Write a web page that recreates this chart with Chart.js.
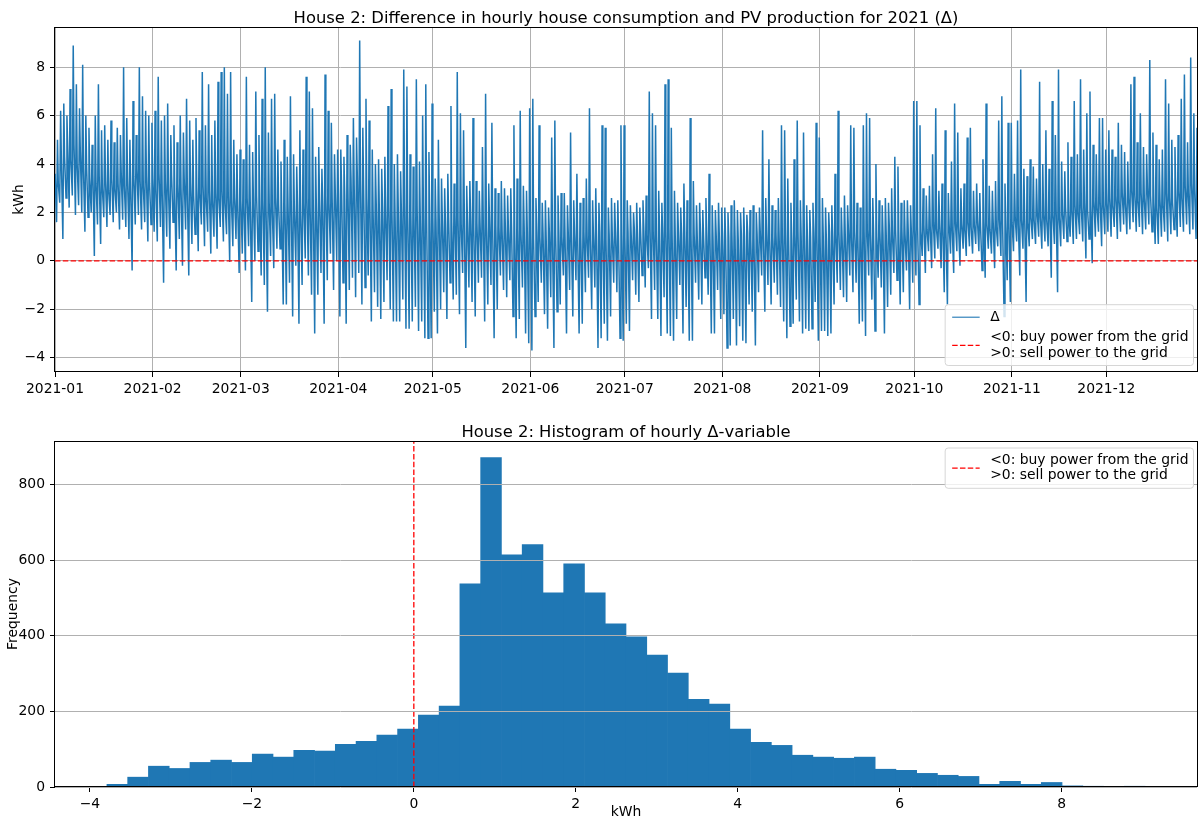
<!DOCTYPE html>
<html>
<head>
<meta charset="utf-8">
<script src="https://cdn.jsdelivr.net/npm/chart.js@4.4.1/dist/chart.umd.min.js"></script>
<style>
  body { margin: 0; background: #fff; }
  #wrap { position: relative; width: 1198px; height: 821px; }
  canvas { position: absolute; left: 0; }
  #deltaChart { top: 0; }
  #histChart { top: 400px; }
</style>
</head>
<body>
<div id="wrap">
  <canvas id="deltaChart" width="1198" height="400"></canvas>
  <canvas id="histChart" width="1198" height="421"></canvas>
</div>
<script>
// x axis of the top plot: day of the year where each month starts
const monthLabels = ["2021-01", "2021-02", "2021-03", "2021-04", "2021-05", "2021-06",
    "2021-07", "2021-08", "2021-09", "2021-10", "2021-11", "2021-12"];
const monthStartDay = [0, 31, 59, 90, 120, 151, 181, 212, 243, 273, 304, 334];

// Δ in kWh (Jan 1 .. Dec 29)
// night level
const dayBase = [
    3.6, 3.2, 4.0, 4.3, 4.6, 4.2, 4.8, 4.0, 4.5, 3.8, 3.9, 3.4, 3.6, 3.2, 3.5, 3.0, 3.3, 2.9, 3.4, 3.0, 3.2, 3.6, 3.1, 3.4, 3.0, 3.5, 3.8, 3.3, 3.1, 3.5, 3.2, // jan
    3.4, 3.0, 3.6, 2.9, 3.3, 3.1, 3.5, 2.8, 3.2, 3.0, 3.4, 2.9, 3.2, 2.7, 3.0, 2.8, 3.1, 2.6, 2.9, 2.5, 2.8, 2.6, 2.9, 2.4, 2.7, 2.5, 2.6, 2.3, // feb
    2.5, 2.3, 2.6, 2.2, 2.4, 2.7, 2.3, 2.5, 2.2, 2.4, 2.1, 2.6, 2.3, 2.0, 2.4, 2.2, 2.5, 2.1, 2.3, 2.0, 2.4, 2.6, 2.2, 2.4, 2.1, 2.5, 2.3, 2.7, 2.4, 2.6, 2.8, // mar
    2.8, 3.0, 2.7, 3.2, 3.4, 3.1, 3.5, 3.3, 3.0, 2.6, 2.3, 2.1, 2.4, 2.0, 2.2, 1.9, 2.3, 2.1, 1.8, 2.2, 2.0, 2.4, 1.9, 2.1, 1.8, 2.2, 1.7, 2.0, 1.9, 1.8, // apr
    1.8, 1.6, 1.9, 1.7, 1.5, 1.8, 1.6, 1.9, 1.7, 1.5, 1.8, 1.6, 1.7, 1.4, 1.6, 1.5, 1.7, 1.4, 1.6, 1.3, 1.5, 1.4, 1.2, 1.5, 1.3, 1.4, 1.2, 1.3, 1.1, 1.4, 1.2, // may
    1.1, 0.9, 1.2, 1.0, 1.1, 0.9, 1.2, 1.0, 1.1, 1.3, 1.0, 0.9, 1.2, 1.0, 1.1, 0.9, 1.0, 1.2, 1.0, 0.9, 1.1, 1.0, 1.2, 1.0, 0.9, 1.1, 1.0, 1.2, 0.9, 1.1, // jun
    1.0, 1.2, 1.1, 1.3, 1.0, 1.2, 1.4, 1.1, 1.3, 1.2, 1.0, 1.3, 1.1, 1.2, 1.4, 1.1, 1.0, 1.2, 1.1, 1.3, 1.0, 1.2, 1.1, 0.9, 1.2, 1.0, 1.1, 1.2, 0.9, 1.1, 1.0, // jul
    1.1, 0.9, 1.0, 1.2, 1.0, 0.9, 1.1, 1.0, 1.2, 0.9, 1.0, 1.1, 1.2, 1.0, 1.1, 0.9, 1.0, 1.2, 1.0, 1.1, 1.3, 1.0, 0.9, 1.1, 1.2, 1.0, 1.1, 0.9, 1.0, 1.2, 1.1, // aug
    1.0, 1.1, 0.9, 1.2, 1.0, 1.1, 1.2, 1.0, 1.1, 1.3, 1.0, 1.2, 1.1, 1.0, 1.2, 1.3, 1.1, 1.2, 1.0, 1.3, 1.1, 1.2, 1.4, 1.1, 1.3, 1.2, 1.4, 1.1, 1.3, 1.2, // sep
    1.3, 1.4, 1.2, 1.5, 1.3, 1.4, 1.6, 1.3, 1.5, 1.4, 1.2, 1.5, 1.3, 1.6, 1.4, 1.5, 1.3, 1.6, 1.4, 1.5, 1.7, 1.4, 1.6, 1.5, 1.3, 1.6, 1.4, 1.7, 1.5, 1.4, 1.6, // oct
    1.6, 1.8, 1.5, 1.7, 1.9, 1.6, 1.8, 1.7, 2.0, 1.8, 1.9, 1.7, 2.0, 1.9, 2.1, 1.8, 2.0, 2.2, 1.9, 2.1, 2.3, 2.0, 2.2, 2.4, 2.1, 2.3, 2.5, 2.2, 2.4, 2.3, // nov
    2.4, 2.6, 2.3, 2.7, 2.5, 2.8, 2.4, 2.6, 2.9, 2.7, 2.5, 2.8, 2.6, 3.0, 2.7, 2.4, 2.2, 2.5, 2.3, 2.8, 2.6, 2.4, 2.7, 2.9, 2.6, 3.1, 2.8, 3.2, 2.9 // dec
];
// midday dip (PV)
const dayLow = [
    1.6, 2.4, 0.9, 2.6, 2.2, 2.7, 1.9, 2.3, 2.0, 1.2, 1.8, 2.0, 0.2, 1.5, 0.7, 1.8, 1.4, 1.9, 1.6, 2.0, 1.3, 1.7, 1.4, 0.9, -0.4, 1.5, 1.9, 1.3, 1.6, 0.8, 1.5,
    1.2, 0.8, 1.4, -0.9, 1.0, 0.5, 1.6, -0.4, 0.9, -0.2, 1.3, -0.6, 0.7, 1.1, 0.4, 1.5, 0.6, 1.2, 0.3, 1.0, 0.5, 1.4, 0.8, 1.1, -0.05, 0.6, 0.9, -0.5,
    0.3, -0.4, 0.6, -1.7, 0.0, 0.4, -0.6, -1.0, -2.1, 0.2, -0.3, 0.5, 0.5, -1.8, -1.8, -0.9, -2.3, -0.2, -2.6, -1.0, 0.1, -0.6, -1.4, -3.0, -1.4, -0.5, -2.6, -0.8, 0.3, -1.2, 0.0,
    -2.3, -0.9, -2.6, -1.2, -0.7, -1.5, -0.5, -1.8, -1.1, -0.6, -2.5, -1.3, -1.9, -2.4, -1.7, -0.8, -2.0, -2.5, -2.5, -2.5, -1.6, -2.8, -2.8, -2.5, -1.9, -2.9, -2.5, -3.2, -3.2, -3.2,
    -2.1, -3.0, -2.0, -1.3, -2.4, -0.9, -1.6, -1.4, -2.2, -0.5, -3.6, -1.1, -1.7, -2.3, -0.9, -0.7, -2.5, -1.8, -1.0, -3.2, -2.0, -0.6, -1.2, -1.5, -0.8, -2.3, -3.2, -2.4, -1.1, -3.0, -3.4,
    -3.7, -2.3, -1.7, -0.9, -2.2, -2.8, -1.5, -3.6, -2.1, -1.8, -0.6, -3.0, -1.2, -2.3, -0.8, -3.0, -2.6, -1.3, -0.7, -2.0, -1.1, -3.6, -3.2, -2.6, -3.3, -2.3, -0.9, -1.3, -3.2, -3.3,
    -2.6, -2.9, -0.8, -1.4, -1.7, -0.6, -1.1, -0.3, -2.4, -1.2, -2.4, -3.1, -1.5, -3.0, -3.1, -3.3, -2.4, -1.0, -3.0, -1.9, -3.3, -3.3, -0.9, -1.6, -1.8, -0.7, -1.4, -3.0, -3.0, -1.2, -2.4,
    -2.2, -3.6, -3.5, -2.4, -3.5, -2.7, -3.3, -3.4, -1.8, -2.1, -3.5, -1.3, -0.6, -2.1, -1.0, -1.8, -0.9, -1.4, -1.9, -2.5, -3.2, -2.7, -2.6, -1.6, -2.5, -3.0, -2.8, -2.9, -2.8, -1.7, -3.3,
    -2.9, -2.9, -3.1, -3.0, -1.8, -0.9, -1.2, -1.5, -1.7, -0.6, -1.3, -0.9, -2.6, -2.5, -3.1, -0.6, -1.6, -2.9, -0.7, -1.1, -3.0, -1.9, -1.4, -0.5, -0.8, -1.8, -1.3, -0.4, -2.0, -0.9,
    -0.6, -1.8, 0.2, -0.5, 0.4, -0.3, 0.1, 0.5, -0.3, -1.3, -1.8, 0.3, -0.5, 0.4, -0.2, 0.5, 0.2, 0.6, 0.3, 0.7, 0.4, -0.4, -0.7, 0.5, 0.3, -0.3, 0.6, 0.2, -2.3, -0.8, -1.7,
    0.4, 0.8, -0.6, 0.5, -1.7, 0.6, 0.9, 0.7, 1.0, 0.5, 0.8, 0.6, -0.7, 0.7, -1.3, 0.6, 0.9, 0.8, 1.0, 0.7, 0.9, 1.1, 0.8, 0.1, 0.9, -0.1, 1.0, 1.2, 0.6, 1.1,
    1.2, 1.0, 1.4, 0.9, 1.2, 1.5, 1.1, 1.3, 1.6, 1.2, 1.4, 1.1, 1.3, 1.5, 1.2, 0.7, 0.7, 1.0, 1.2, 0.8, 1.1, 1.3, 1.0, 1.4, 1.2, 1.5, 1.1, 1.3, 0.9
];
// evening peak
const dayHigh = [
    5.0, 6.2, 6.5, 6.0, 7.1, 8.9, 7.3, 6.3, 8.1, 6.0, 5.5, 4.8, 6.0, 7.3, 5.4, 5.6, 5.0, 5.8, 4.9, 5.5, 5.2, 8.0, 5.9, 5.0, 6.6, 5.2, 8.0, 6.8, 6.2, 6.0, 5.7,
    6.2, 7.6, 5.8, 6.0, 6.5, 5.2, 5.6, 4.9, 6.0, 5.3, 6.7, 5.8, 5.0, 5.9, 5.4, 7.8, 5.6, 7.3, 5.2, 5.8, 7.4, 7.8, 8.0, 6.9, 7.8, 5.0, 4.4, 4.6,
    4.2, 7.6, 4.8, 4.5, 7.0, 5.2, 6.7, 8.0, 5.3, 6.7, 6.9, 4.6, 4.1, 5.0, 4.3, 6.8, 4.4, 3.9, 5.4, 4.6, 7.6, 7.0, 6.3, 4.3, 4.7, 3.8, 7.7, 6.2, 5.7, 4.4, 4.6,
    4.6, 4.3, 5.2, 4.8, 5.9, 5.1, 9.1, 5.5, 6.7, 5.8, 4.6, 4.0, 4.2, 3.8, 4.3, 6.4, 7.1, 4.0, 4.4, 3.7, 7.9, 7.2, 4.4, 3.9, 7.5, 4.1, 6.0, 7.3, 4.5, 6.5,
    3.4, 5.0, 3.4, 3.0, 3.6, 6.4, 3.2, 7.8, 6.1, 5.4, 3.1, 3.3, 5.9, 3.3, 2.9, 4.7, 6.9, 3.2, 5.7, 3.0, 2.8, 3.3, 3.0, 2.7, 3.0, 5.6, 3.4, 6.2, 3.1, 2.9, 6.3,
    6.7, 2.6, 5.6, 2.4, 2.5, 2.2, 5.1, 5.8, 2.7, 2.8, 2.8, 2.3, 5.3, 2.5, 3.6, 2.4, 2.6, 3.4, 6.3, 2.5, 3.0, 2.4, 5.6, 5.5, 2.2, 2.6, 2.4, 2.5, 5.6, 5.6,
    2.5, 2.3, 2.0, 2.4, 2.2, 2.5, 2.7, 7.0, 6.1, 5.6, 2.9, 2.4, 7.3, 7.5, 5.5, 2.9, 2.4, 2.2, 3.2, 2.5, 5.9, 3.3, 2.3, 2.4, 2.1, 2.6, 3.6, 2.3, 2.1, 2.4, 2.2,
    2.2, 2.0, 2.3, 2.5, 2.1, 2.0, 2.2, 1.9, 2.1, 2.3, 2.0, 2.2, 5.4, 2.6, 4.2, 2.3, 2.1, 2.6, 5.6, 5.4, 3.4, 2.4, 4.2, 5.8, 2.5, 5.3, 2.3, 2.1, 2.4, 5.7, 5.1,
    2.6, 2.2, 2.0, 2.3, 3.6, 6.2, 2.2, 2.7, 2.3, 5.6, 5.5, 2.4, 2.2, 5.6, 6.1, 5.9, 2.6, 4.0, 2.5, 2.3, 2.6, 2.4, 3.0, 4.3, 3.9, 2.4, 2.5, 2.5, 2.3, 6.6,
    6.6, 5.6, 3.0, 2.7, 3.1, 4.4, 6.3, 2.9, 3.2, 5.4, 2.8, 4.1, 6.5, 5.3, 3.0, 3.2, 5.1, 5.5, 2.9, 3.2, 2.8, 4.2, 6.5, 3.1, 2.9, 3.3, 5.8, 6.8, 3.2, 5.7, 5.7,
    3.6, 5.8, 7.9, 3.8, 3.5, 4.2, 3.9, 3.4, 7.4, 4.0, 5.4, 3.8, 6.6, 5.2, 7.9, 4.1, 3.7, 4.9, 4.3, 6.6, 4.4, 7.5, 4.6, 6.1, 7.0, 4.8, 4.4, 5.9, 5.9, 4.6,
    5.4, 4.6, 4.3, 5.7, 4.8, 4.5, 4.1, 7.3, 7.6, 4.9, 6.1, 4.7, 4.4, 8.3, 5.3, 4.8, 4.2, 4.6, 7.5, 6.5, 5.0, 4.7, 5.2, 6.7, 7.7, 4.9, 8.4, 6.1, 5.5
];
// hour of the day each of the three readings sits at
const readingHours = [1, 12, 19];

// histogram of hourly Δ: 50 bins between min and max of the series
const histRange = [-3.79, 9.03];
const histCounts = [7, 26, 55, 49, 65, 71, 65, 87, 79, 97, 95, 113, 121, 137, 153, 190, 214, 537, 871, 614,
    641, 513, 590, 513, 431, 397, 349, 301, 232, 219, 153, 118, 110, 84, 79, 76, 79, 47, 44, 36,
    31, 28, 7, 15, 7, 12, 3, 2, 1, 2];
const histTicks = [-4, -2, 0, 2, 4, 6, 8];

const gridCol = "#b0b0b0";
const blue = "#1f77b4";
const fontFam = "'DejaVu Sans', sans-serif";
const gridLabel = "<0: buy power from the grid\n>0: sell power to the grid";

Chart.defaults.font.family = fontFam;
Chart.defaults.color = "#000";

const deltaPoints = [];
for (let d = 0; d < dayHigh.length; d++) {
    deltaPoints.push({ x: d + readingHours[0] / 24, y: dayBase[d] });
    deltaPoints.push({ x: d + readingHours[1] / 24, y: dayLow[d] });
    deltaPoints.push({ x: d + readingHours[2] / 24, y: dayHigh[d] });
}
const lastX = deltaPoints[deltaPoints.length - 1].x;

const binW = (histRange[1] - histRange[0]) / histCounts.length;
const histPoints = histCounts.map((c, i) => ({ x: histRange[0] + (i + 0.5) * binW, y: c }));
const histMax = Math.max(...histCounts) * 1.05;
const histPad = (histRange[1] - histRange[0]) * 0.05;

function minusSign(v) {
    return String(v).replace("-", "\u2212");
}

// title centred over the plot area (chart.js centres on the canvas)
const areaTitle = {
    id: "areaTitle",
    afterDraw(chart, args, opts) {
        const { ctx, chartArea: a } = chart;
        ctx.save();
        ctx.font = "16.4px " + fontFam;
        ctx.fillStyle = "#000";
        ctx.textAlign = "center";
        ctx.textBaseline = "alphabetic";
        ctx.fillText(opts.text, (a.left + a.right) / 2, a.top - 4);
        ctx.restore();
    }
};

// black frame round the plot area, like matplotlib spines
const frame = {
    id: "frame",
    afterDatasetsDraw(chart) {
        const { ctx, chartArea: a } = chart;
        ctx.save();
        ctx.strokeStyle = "#000";
        ctx.lineWidth = 1;
        ctx.strokeRect(Math.round(a.left) - 0.5, Math.round(a.top) + 0.5, Math.round(a.right - a.left) + 1, Math.round(a.bottom - a.top) - 1);
        ctx.restore();
    }
};

// matplotlib draws the grid above the bars
const gridOnTop = {
    id: "gridOnTop",
    afterDatasetsDraw(chart) {
        const { ctx, chartArea: a, scales } = chart;
        ctx.save();
        ctx.strokeStyle = gridCol;
        ctx.lineWidth = 1;
        scales.y.ticks.forEach(t => {
            const y = Math.round(scales.y.getPixelForValue(t.value) - 0.5) + 0.5;
            ctx.beginPath();
            ctx.moveTo(a.left, y);
            ctx.lineTo(a.right, y);
            ctx.stroke();
        });
        ctx.restore();
    }
};

// legend box inside the plot, built from the line datasets
const legendBox = {
    id: "legendBox",
    afterDraw(chart, args, opts) {
        const { ctx, chartArea: a } = chart;
        const items = chart.data.datasets.filter(ds => ds.type !== "bar").map(ds => ({
            lines: ds.label.split("\n"), color: ds.borderColor, dash: ds.borderDash || [], width: ds.legendWidth || ds.borderWidth
        }));
        ctx.save();
        ctx.font = "13.9px " + fontFam;
        let textW = 0;
        items.forEach(it => it.lines.forEach(l => { textW = Math.max(textW, ctx.measureText(l).width); }));
        const w = 45 + textW + 5;
        let y = 12.5;
        const rows = [];
        items.forEach((it, k) => {
            if (k > 0) y += 20.5;
            const first = y;
            y += (it.lines.length - 1) * 15.3;
            rows.push({ it, first, mid: (first + y) / 2 });
        });
        const h = y + 12.5;
        const left = a.right - 3.5 - w;
        const top = opts.corner === "top" ? a.top + 7 : a.bottom - 6.5 - h;

        ctx.beginPath();
        ctx.roundRect(left, top, w, h, 3);
        ctx.fillStyle = "rgba(255,255,255,0.8)";
        ctx.fill();
        ctx.strokeStyle = "#d6d6d6";
        ctx.lineWidth = 1;
        ctx.stroke();

        ctx.textBaseline = "middle";
        ctx.fillStyle = "#000";
        rows.forEach(r => {
            ctx.beginPath();
            ctx.setLineDash(r.it.dash);
            ctx.strokeStyle = r.it.color;
            ctx.lineWidth = r.it.width;
            ctx.moveTo(left + 7, top + r.mid);
            ctx.lineTo(left + 34.5, top + r.mid);
            ctx.stroke();
            ctx.setLineDash([]);
            r.it.lines.forEach((l, j) => ctx.fillText(l, left + 45, top + r.first + j * 15.3));
        });
        ctx.restore();
    }
};

const tickFont = { family: fontFam, size: 13.9 };
const labelFont = { family: fontFam, size: 13.9, lineHeight: 1.2 };

new Chart(document.getElementById("deltaChart"), {
    type: "line",
    data: {
        datasets: [
            {
                type: "line",
                label: "Δ",
                data: deltaPoints,
                borderColor: blue,
                borderWidth: 1.5,
                legendWidth: 1.1,
                pointRadius: 0,
                tension: 0,
                order: 1
            },
            {
                type: "line",
                label: gridLabel,
                data: [{ x: 0, y: 0 }, { x: lastX, y: 0 }],
                borderColor: "red",
                borderWidth: 1.3,
                borderDash: [5.5, 2.3],
                pointRadius: 0,
                order: 0
            }
        ]
    },
    options: {
        responsive: false,
        animation: false,
        events: [],
        layout: { padding: { left: 0, right: 1, top: 27, bottom: 0 } },
        plugins: {
            legend: { display: false },
            tooltip: { enabled: false },
            title: { display: false },
            areaTitle: { text: "House 2: Difference in hourly house consumption and PV production for 2021 (Δ)" },
            legendBox: { corner: "bottom" }
        },
        scales: {
            x: {
                type: "linear",
                min: 0,
                max: lastX,
                border: { display: false },
                grid: { color: gridCol, lineWidth: 1, tickColor: "#000", tickLength: 5 },
                afterBuildTicks: axis => { axis.ticks = monthStartDay.map(v => ({ value: v })); },
                afterFit: axis => { axis.height = 28; },
                ticks: {
                    autoSkip: false,
                    maxRotation: 0,
                    padding: 4,
                    font: tickFont,
                    callback: (v, i) => monthLabels[i]
                }
            },
            y: {
                min: -4.59,
                max: 9.66,
                border: { display: false },
                grid: { color: gridCol, lineWidth: 1, tickColor: "#000", tickLength: 5 },
                afterFit: axis => { axis.width = 55; },
                title: { display: true, text: "kWh", font: labelFont, padding: { top: 10.7, bottom: 0 } },
                ticks: {
                    stepSize: 2,
                    includeBounds: false,
                    padding: 5,
                    font: tickFont,
                    callback: v => minusSign(v)
                }
            }
        }
    },
    plugins: [frame, areaTitle, legendBox]
});

new Chart(document.getElementById("histChart"), {
    type: "bar",
    data: {
        datasets: [
            {
                type: "bar",
                label: "hourly Δ",
                data: histPoints,
                backgroundColor: blue,
                borderWidth: 0,
                barPercentage: 1,
                categoryPercentage: 1,
                order: 1
            },
            {
                type: "line",
                label: gridLabel,
                data: [{ x: 0, y: 0 }, { x: 0, y: histMax }],
                borderColor: "red",
                borderWidth: 1.3,
                borderDash: [5.5, 2.3],
                pointRadius: 0,
                order: 0
            }
        ]
    },
    options: {
        responsive: false,
        animation: false,
        events: [],
        layout: { padding: { left: 0, right: 1, top: 41, bottom: 0 } },
        plugins: {
            legend: { display: false },
            tooltip: { enabled: false },
            title: { display: false },
            areaTitle: { text: "House 2: Histogram of hourly Δ-variable" },
            legendBox: { corner: "top" }
        },
        scales: {
            x: {
                type: "linear",
                offset: false,
                min: histRange[0] - histPad,
                max: histRange[1] + histPad,
                border: { display: false },
                grid: { offset: false, drawOnChartArea: false, tickColor: "#000", tickLength: 5 },
                afterBuildTicks: axis => { axis.ticks = histTicks.map(v => ({ value: v })); },
                afterFit: axis => { axis.height = 34; },
                title: { display: true, text: "kWh", font: labelFont, padding: { top: 0, bottom: 0 } },
                ticks: {
                    autoSkip: false,
                    maxRotation: 0,
                    padding: 4,
                    font: tickFont,
                    callback: v => minusSign(v)
                }
            },
            y: {
                min: 0,
                max: histMax,
                border: { display: false },
                grid: { drawOnChartArea: false, tickColor: "#000", tickLength: 5 },
                afterFit: axis => { axis.width = 55; },
                title: { display: true, text: "Frequency", font: labelFont, padding: { top: 4.7, bottom: 0 } },
                ticks: {
                    stepSize: 200,
                    includeBounds: false,
                    padding: 5,
                    font: tickFont
                }
            }
        }
    },
    plugins: [gridOnTop, frame, areaTitle, legendBox]
});
</script>
</body>
</html>
